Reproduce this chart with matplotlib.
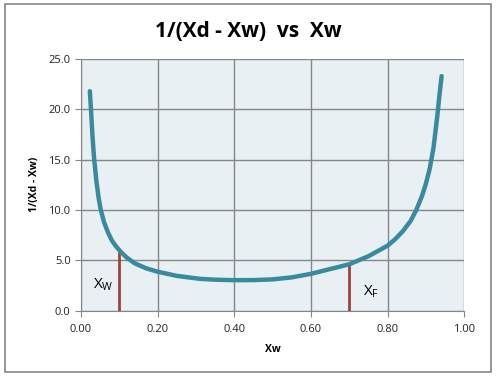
import matplotlib.pyplot as plt
from matplotlib.patches import Rectangle
from matplotlib.ticker import FormatStrFormatter

# values
xw = [0.023, 0.026, 0.030, 0.034, 0.040, 0.046, 0.051, 0.060, 0.070, 0.080,
      0.090, 0.100, 0.110, 0.120, 0.140, 0.170, 0.200, 0.250, 0.309, 0.350,
      0.400, 0.450, 0.500, 0.550, 0.600, 0.647, 0.700, 0.750, 0.800, 0.820,
      0.840, 0.860, 0.875, 0.890, 0.900, 0.910, 0.920, 0.930, 0.936, 0.941]
inv_diff = [21.8, 20.0, 17.3, 15.2, 12.9, 11.2, 10.1, 8.8, 7.8, 7.0,
            6.45, 6.0, 5.6, 5.25, 4.7, 4.2, 3.86, 3.45, 3.16, 3.07,
            3.02, 3.03, 3.1, 3.3, 3.65, 4.1, 4.6, 5.4, 6.45, 7.1,
            7.9, 8.9, 10.0, 11.4, 12.6, 14.1, 16.2, 19.4, 21.6, 23.3]

marker_x = [0.10, 0.70]
marker_top = [6.1, 4.6]
marker_labels = ["W", "F"]
marker_label_pos = [(0.03, 2.6), (0.735, 1.9)]

x_ticks = [0.0, 0.2, 0.4, 0.6, 0.8, 1.0]
y_ticks = [0.0, 5.0, 10.0, 15.0, 20.0, 25.0]

GRID = "#868686"
CURVE = "#3a8a9e"
MARK = "#a0403f"

fig = plt.figure(figsize=(4.97, 3.76), dpi=100)
fig.patches.append(Rectangle((0.01, 0.01), 0.978, 0.98, transform=fig.transFigure,
                             fill=False, edgecolor=GRID, linewidth=1.2))

ax = fig.add_axes([0.163, 0.174, 0.771, 0.669])
ax.set_facecolor("#e8f0f4")

ax.plot(xw, inv_diff, color=CURVE, linewidth=3.2, solid_capstyle="round",
        solid_joinstyle="round", zorder=3)
ax.vlines(marker_x, 0, marker_top, color=MARK, linewidth=2, zorder=2)

for lab, (tx, ty) in zip(marker_labels, marker_label_pos):
    ax.text(tx, ty, r"$\mathregular{X_{%s}}$" % lab, fontsize=11, family="Open Sans",
            ha="left", va="center", zorder=4)

ax.set_xlim(0, 1)
ax.set_ylim(0, 25)
ax.set_xticks(x_ticks)
ax.set_yticks(y_ticks)
ax.xaxis.set_major_formatter(FormatStrFormatter("%.2f"))
ax.yaxis.set_major_formatter(FormatStrFormatter("%.1f"))
ax.grid(True, color=GRID, linewidth=1)
ax.set_axisbelow(True)

for side in ["top", "right"]:
    ax.spines[side].set_visible(False)
for side in ["left", "bottom"]:
    ax.spines[side].set_color(GRID)

ax.tick_params(colors=GRID, length=4, labelsize=8, labelcolor="#222222")
ax.tick_params(axis="x", pad=6)
for lbl in ax.get_xticklabels() + ax.get_yticklabels():
    lbl.set_family("Open Sans")

ax.set_xlabel("Xw", fontsize=7.5, fontweight="bold", family="Open Sans", labelpad=6)
ax.set_ylabel("1/(Xd - Xw)", fontsize=7.5, fontweight="bold", family="Open Sans", labelpad=6)

fig.text(0.5, 0.915, "1/(Xd - Xw)  vs  Xw", ha="center", va="center",
         fontsize=15, fontweight="bold", family="Open Sans")

fig.savefig("out.png", dpi=100)
